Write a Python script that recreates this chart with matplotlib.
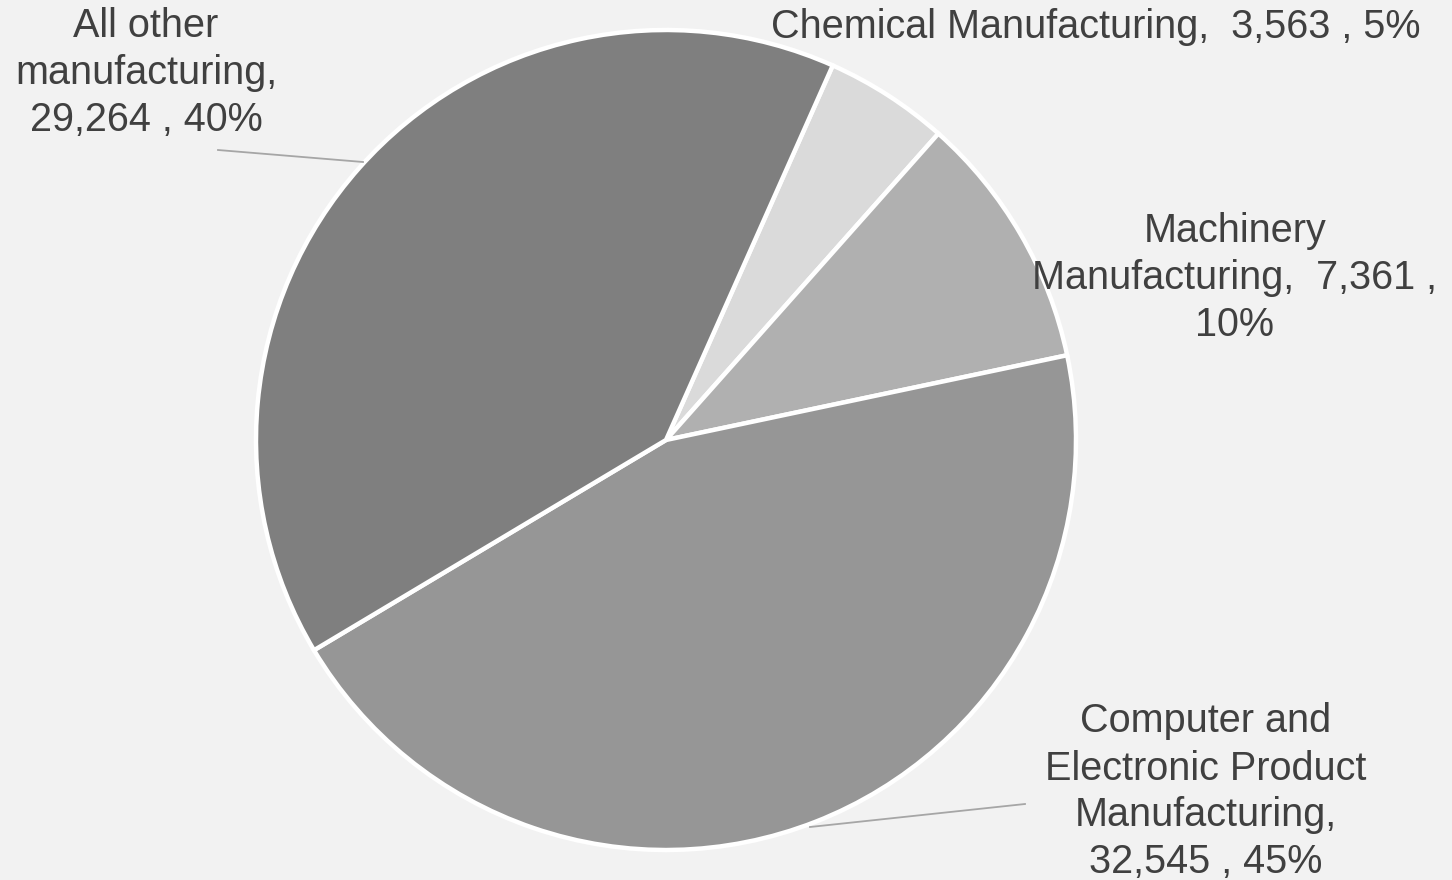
import matplotlib
matplotlib.use("Agg")
import matplotlib.pyplot as plt
from matplotlib import font_manager

# data
categories = ["Chemical Manufacturing", "Machinery Manufacturing",
              "Computer and Electronic Product Manufacturing",
              "All other manufacturing"]
values = [3563, 7361, 32545, 29264]
colors = ["#dadada", "#b0b0b0", "#969696", "#7f7f7f"]
label_texts = [
    "Chemical Manufacturing,  3,563 , 5%",
    "Machinery\nManufacturing,  7,361 ,\n10%",
    "Computer and\nElectronic Product\nManufacturing,\n32,545 , 45%",
    "All other\nmanufacturing,\n29,264 , 40%",
]

names = {f.name for f in font_manager.fontManager.ttflist}
family = "Liberation Sans Narrow" if "Liberation Sans Narrow" in names else "Liberation Sans"

W, H = 1452, 880
fig = plt.figure(figsize=(W / 100, H / 100), dpi=100, facecolor="#f2f2f2")
ax = fig.add_axes([0, 0, 1, 1])
ax.set_facecolor("#f2f2f2")

cx, cy, r = 666, H - 440, 410
ax.pie(values, colors=colors, startangle=66, counterclock=False,
       center=(cx, cy), radius=r, frame=True,
       wedgeprops=dict(edgecolor="white", linewidth=3.2))
ax.set_xlim(0, W)
ax.set_ylim(0, H)
ax.set_aspect("equal")
ax.axis("off")

# label positions (pixel coords, top-left origin) for each category
label_pos = [(1096, 27), (1235, 278), (1206, 792), (146, 73)]
for txt, (x, y) in zip(label_texts, label_pos):
    ax.text(x, H - y, txt, ha="center", va="center", fontsize=28.5,
            family=family, color="#404040", linespacing=1.3)

# leader lines
ax.plot([218, 363], [H - 150, H - 162], color="#a6a6a6", lw=1.3)
ax.plot([1025, 810], [H - 804, H - 827], color="#a6a6a6", lw=1.3)

fig.savefig("out.png", dpi=100, facecolor=fig.get_facecolor())
